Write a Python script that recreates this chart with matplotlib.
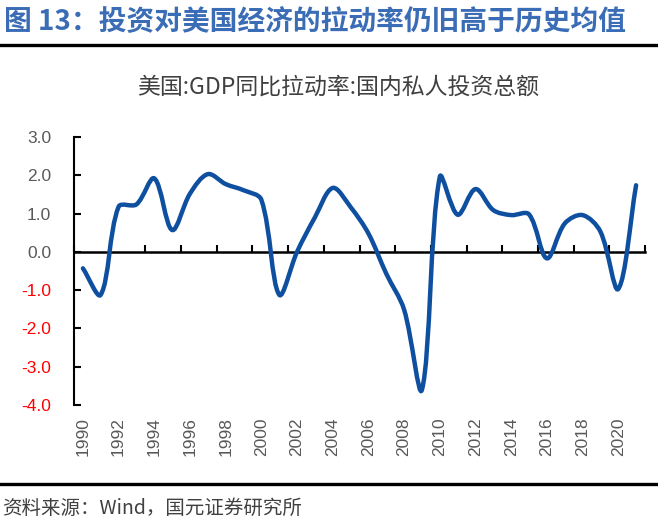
import matplotlib
matplotlib.use("Agg")
import matplotlib.pyplot as plt
from matplotlib.path import Path
from matplotlib.patches import PathPatch
import numpy as np

plt.rcParams['font.family'] = ['Liberation Sans', 'Noto Sans CJK SC', 'DejaVu Sans']

years = list(range(1990, 2022))
values = [-0.43, -1.12, 1.18, 1.24, 1.92, 0.57, 1.52, 2.03, 1.77, 1.61,
          1.36, -1.12, 0.00, 0.90, 1.67, 1.17, 0.48, -0.57, -1.51, -3.60,
          1.96, 0.97, 1.64, 1.09, 0.96, 0.98, -0.17, 0.74, 0.96, 0.53,
          -0.97, 1.74]
tick_labels = [str(y) for y in years[::2]]
yticks = [3.0, 2.0, 1.0, 0.0, -1.0, -2.0, -3.0, -4.0]

title = "图 13：投资对美国经济的拉动率仍旧高于历史均值"
subtitle = "美国:GDP同比拉动率:国内私人投资总额"
source = "资料来源：Wind，国元证券研究所"

W, H = 658, 521
ax_l, ax_r, ax_t, ax_b = 74, 645, 137, 405
fig = plt.figure(figsize=(W/100, H/100), dpi=100)
ax = fig.add_axes([ax_l/W, (H-ax_b)/H, (ax_r-ax_l)/W, (ax_b-ax_t)/H])

n = len(values)
x = np.arange(n, dtype=float)
y = np.array(values, dtype=float)
ax.set_xlim(-0.5, n - 0.5)
ax.set_ylim(-4.0, 3.0)

# Smoothed line: Bezier through points, tangents scaled by chord lengths (in display space)
sx = (ax_r - ax_l) / n
sy = (ax_b - ax_t) / 7.0
P = np.column_stack([x * sx, y * sy])
before = [None] * n
after = [None] * n
for i in range(n):
    p_prev = P[max(i-1, 0)]
    p_next = P[min(i+1, n-1)]
    T = (p_next - p_prev) / 6.0
    d0 = np.linalg.norm(P[i] - p_prev)
    d1 = np.linalg.norm(p_next - P[i])
    tot = d0 + d1 if d0 + d1 > 0 else 1.0
    before[i] = P[i] - T * 2 * d0 / tot
    after[i] = P[i] + T * 2 * d1 / tot
verts = [tuple(P[0])]
codes = [Path.MOVETO]
for i in range(n - 1):
    verts += [tuple(after[i]), tuple(before[i+1]), tuple(P[i+1])]
    codes += [Path.CURVE4] * 3
verts = [(vx / sx, vy / sy) for vx, vy in verts]
patch = PathPatch(Path(verts, codes), facecolor='none', edgecolor='#0F4FA0',
                  lw=3.2, capstyle='round', joinstyle='round', zorder=3)
ax.add_patch(patch)

for s in ['top', 'right']:
    ax.spines[s].set_visible(False)
ax.spines['left'].set_linewidth(1.5)
ax.spines['left'].set_color('black')
ax.spines['bottom'].set_position(('data', 0))
ax.spines['bottom'].set_linewidth(1.8)
ax.spines['bottom'].set_color('black')
ax.spines['bottom'].set_zorder(2)

ax.set_xticks(np.arange(-0.5, n, 2))
ax.tick_params(axis='x', direction='in', length=5, width=1.5, labelbottom=False,
               color='black')

ax.set_yticks(yticks)
ax.set_yticklabels([f"{v:.1f}" for v in yticks])
ax.tick_params(axis='y', direction='in', length=5, width=1.5, pad=16.5,
               labelsize=12.5)
for lab, v in zip(ax.get_yticklabels(), yticks):
    lab.set_color('#FF0000' if v < 0 else '#595959')

sec = ax.secondary_xaxis(0.0)
sec.set_xticks(np.arange(0, n, 2))
sec.set_xticklabels(tick_labels, rotation=90, fontsize=12.5, color='#595959')
sec.tick_params(length=0, pad=9)
sec.spines['bottom'].set_visible(False)

# header / footer
fig.text(4/W, 1 - 22/H, title, fontsize=20, fontweight='bold',
         color='#3A6DB5', ha='left', va='center',
         family=['Noto Sans CJK SC', 'DejaVu Sans'])
fig.add_artist(plt.Line2D([0, 1], [1 - 44.5/H, 1 - 44.5/H],
                          color='black', lw=2.4, transform=fig.transFigure))
fig.text(338/W, 1 - 87/H, subtitle, fontsize=16.5, color='#404040',
         ha='center', va='center', family=['Noto Sans CJK SC', 'DejaVu Sans'])
fig.add_artist(plt.Line2D([0, 1], [1 - 484/H, 1 - 484/H],
                          color='black', lw=2.4, transform=fig.transFigure))
fig.text(2/W, 1 - 508/H, source, fontsize=14, color='#404040',
         ha='left', va='center', family=['Noto Sans CJK SC', 'DejaVu Sans'])

fig.savefig('out.png', dpi=100)
